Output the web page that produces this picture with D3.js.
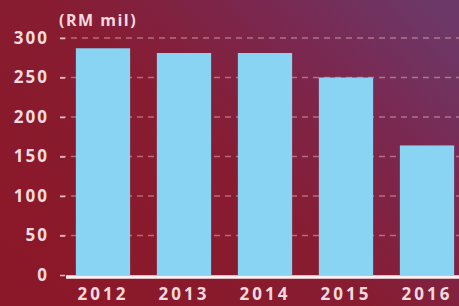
<!DOCTYPE html>
<html>
<head>
<meta charset="utf-8">
<script src="https://cdn.jsdelivr.net/npm/d3@7"></script>
<style>
  html, body { margin: 0; padding: 0; background: #8a1c2e; }
  svg { display: block; }
  text { font-family: "Open Sans", sans-serif; font-weight: 700; fill: #f3d9dd; }
</style>
</head>
<body>
<div id="chart"></div>
<script>
// data
var years = ['2012', '2013', '2014', '2015', '2016'];
var values = [287, 281, 281, 250, 164];
var yTicks = [0, 50, 100, 150, 200, 250, 300];
var unitLabel = '(RM mil)';

var width = 459, height = 306;

var svg = d3.select('#chart')
  .append('svg')
    .attr('width', width)
    .attr('height', height);

// background gradient, red on the left to purple up right
var defs = svg.append('defs');
var grad = defs.append('linearGradient')
  .attr('id', 'bg')
  .attr('x1', 0).attr('y1', 0.8)
  .attr('x2', 1).attr('y2', 0.1);
grad.append('stop').attr('offset', '0%').attr('stop-color', '#8b1828');
grad.append('stop').attr('offset', '45%').attr('stop-color', '#871c31');
grad.append('stop').attr('offset', '75%').attr('stop-color', '#7a2850');
grad.append('stop').attr('offset', '100%').attr('stop-color', '#6c3868');

svg.append('rect')
  .attr('width', width).attr('height', height)
  .attr('fill', 'url(#bg)');

var x = d3.scaleBand()
  .domain(years)
  .range([62.5, 467.5])
  .paddingInner(0.33)
  .paddingOuter(0.165);

var y = d3.scaleLinear()
  .domain([0, 300])
  .range([275, 38]);

// dashed gridlines
svg.append('g')
  .selectAll('line')
  .data(yTicks.filter(function(d) { return d > 0; }))
  .enter()
  .append('line')
    .attr('x1', 60).attr('x2', width)
    .attr('y1', function(d) { return y(d); })
    .attr('y2', function(d) { return y(d); })
    .attr('stroke', '#e7b9c4')
    .attr('stroke-opacity', 0.5)
    .attr('stroke-width', 1.5)
    .attr('stroke-dasharray', '6,5');

// y axis labels
var yAxis = d3.axisLeft(y)
  .tickValues(yTicks)
  .tickSize(5)
  .tickPadding(11);

var gy = svg.append('g')
  .attr('transform', 'translate(65,0)')
  .call(yAxis);
gy.select('.domain').remove();
gy.selectAll('.tick line').attr('stroke', '#e9c3cb').attr('stroke-width', 1.5);
gy.selectAll('.tick text')
  .style('font-size', '17px')
  .style('letter-spacing', '2px')
  .attr('fill', '#f3d9dd');

// bars
svg.append('g')
  .selectAll('rect')
  .data(values)
  .enter()
  .append('rect')
    .attr('x', function(d, i) { return x(years[i]); })
    .attr('y', function(d) { return y(d); })
    .attr('width', x.bandwidth())
    .attr('height', function(d) { return y(0) - y(d); })
    .attr('fill', '#88d4f2');

// white baseline
svg.append('line')
  .attr('x1', 66).attr('x2', width)
  .attr('y1', y(0) + 2).attr('y2', y(0) + 2)
  .attr('stroke', '#fbeff2')
  .attr('stroke-width', 3.5);

// year labels
var xAxis = d3.axisBottom(x).tickSize(0).tickPadding(0);
var gx = svg.append('g')
  .attr('transform', 'translate(0,' + (y(0) + 13) + ')')
  .call(xAxis);
gx.select('.domain').remove();
gx.selectAll('.tick text')
  .attr('dy', '0.71em')
  .style('font-size', '17px')
  .style('letter-spacing', '3px')
  .attr('fill', '#f3d9dd');

// unit label
svg.append('text')
  .attr('x', 59)
  .attr('y', 26)
  .style('font-size', '16px')
  .style('letter-spacing', '1.5px')
  .text(unitLabel);
</script>
</body>
</html>
